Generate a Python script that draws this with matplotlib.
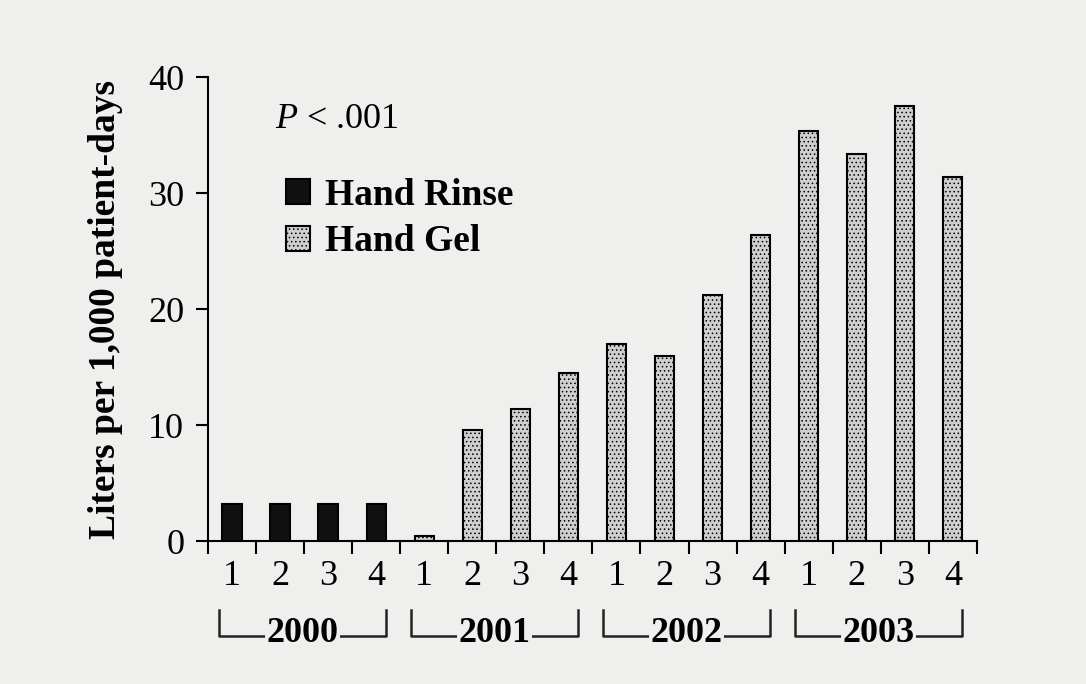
import matplotlib.pyplot as plt
import matplotlib.transforms as mtransforms

plt.rcParams["font.family"] = ["Liberation Serif", "DejaVu Serif"]
plt.rcParams["mathtext.fontset"] = "custom"
plt.rcParams["mathtext.it"] = "Liberation Serif:italic"
plt.rcParams["mathtext.rm"] = "Liberation Serif"
plt.rcParams["hatch.color"] = "#8a8a8a"
plt.rcParams["hatch.linewidth"] = 0.6

BG = "#efefed"

years = ["2000", "2001", "2002", "2003"]
quarters = ["1", "2", "3", "4"] * 4
rinse = [3.2, 3.2, 3.2, 3.2]
gel = [0.4, 9.6, 11.4, 14.5, 17.0, 16.0, 21.2, 26.4, 35.4, 33.4, 37.5, 31.4]

fig = plt.figure(figsize=(10.86, 6.84), dpi=100, facecolor=BG)
ax = fig.add_axes([0.1915, 0.209, 0.708, 0.678])
ax.set_facecolor(BG)

xr = list(range(len(rinse)))
xg = list(range(len(rinse), len(rinse) + len(gel)))
ax.bar(xr, rinse, width=0.4, color="#111111", edgecolor="black", lw=1.5,
       label="Hand Rinse")
ax.bar(xg, gel, width=0.4, color="#cfcfcf", edgecolor="black", lw=1.5,
       hatch="....", label="Hand Gel")

n = len(quarters)
ax.set_xlim(-0.5, n - 0.5)
ax.set_ylim(0, 40)
ax.set_yticks([0, 10, 20, 30, 40])
ax.tick_params(axis="y", labelsize=26, length=9, width=1.5, pad=8)

# ticks between bars, quarter labels under bars
ax.set_xticks([i - 0.5 for i in range(n + 1)])
ax.set_xticklabels([])
ax.set_xticks(range(n), minor=True)
ax.set_xticklabels(quarters, minor=True)
ax.tick_params(axis="x", which="major", direction="out", length=9, width=1.5)
ax.tick_params(axis="x", which="minor", length=0, labelsize=26, pad=14)

for s in ["top", "right"]:
    ax.spines[s].set_visible(False)
for s in ["left", "bottom"]:
    ax.spines[s].set_linewidth(1.5)

ax.set_ylabel("Liters per 1,000 patient-days", fontsize=27, fontweight="bold",
              labelpad=18)

# year brackets
trans = mtransforms.blended_transform_factory(ax.transData, ax.transAxes)
for g, yr in enumerate(years):
    x0, x1 = 4 * g - 0.28, 4 * g + 3.2
    ax.plot([x0, x0, x1, x1], [-0.148, -0.204, -0.204, -0.148], color="#222222",
            lw=1.8, transform=trans, clip_on=False)
    ax.text((x0 + x1) / 2, -0.2, yr, transform=trans, ha="center", va="center",
            fontsize=26, fontweight="bold",
            bbox=dict(facecolor=BG, edgecolor="none", pad=1))

ax.text(0.087, 0.91, "$P$ < .001", transform=ax.transAxes, fontsize=26,
        ha="left", va="center")

ax.legend(loc="upper left", bbox_to_anchor=(0.082, 0.815), frameon=False,
          prop={"size": 27, "weight": "bold"}, handlelength=0.65,
          handleheight=0.65, handletextpad=0.4, labelspacing=0.3,
          borderaxespad=0)

fig.savefig("out.png", dpi=100, facecolor=BG)
